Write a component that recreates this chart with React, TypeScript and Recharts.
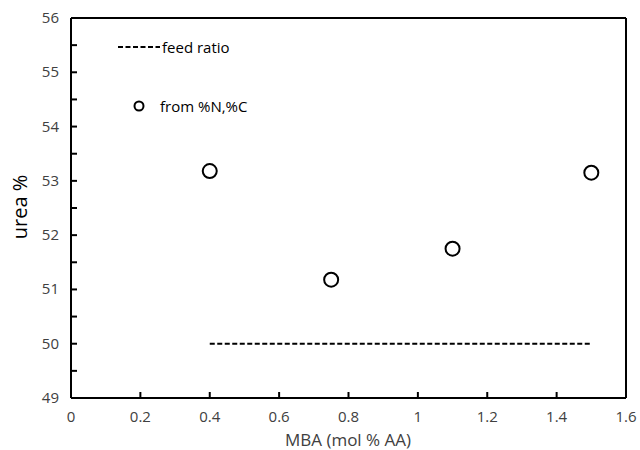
import { ComposedChart, Scatter, XAxis, YAxis, ReferenceLine, Label } from 'recharts';

const mbaPoints = [0.4, 0.75, 1.1, 1.5];
const ureaPoints = [53.18, 51.18, 51.75, 53.15];
const feedX = [0.4, 1.5];
const feedY = [50, 50];
const xTicks = [0, 0.2, 0.4, 0.6, 0.8, 1, 1.2, 1.4, 1.6];
const yTicks = [49, 49.5, 50, 50.5, 51, 51.5, 52, 52.5, 53, 53.5, 54, 54.5, 55, 55.5, 56];

const measured = mbaPoints.map((x, i) => ({ x, y: ureaPoints[i] }));
const feed = feedX.map((x, i) => ({ x, y: feedY[i] }));

const font = 'Open Sans, sans-serif';

const XTick = (props: any) => {
  const { x, y, payload } = props;
  return (
    <g>
      <line x1={x} y1={y} x2={x} y2={y - 6} stroke="#000" strokeWidth={2} />
      <text x={x} y={y + 24} textAnchor="middle" fontSize={15} fill="#404040" fontFamily={font}>
        {payload.value}
      </text>
    </g>
  );
};

const YTick = (props: any) => {
  const { x, y, payload } = props;
  const major = Number.isInteger(payload.value);
  return (
    <g>
      <line x1={x} y1={y} x2={x + 6} y2={y} stroke="#000" strokeWidth={2} />
      {major && (
        <text x={x - 12} y={y + 5} textAnchor="end" fontSize={15} fill="#404040" fontFamily={font}>
          {payload.value}
        </text>
      )}
    </g>
  );
};

// legend drawn over the plot, the way the spreadsheet places it
const LegendBox = () => (
  <div style={{ position: 'absolute', left: 118, top: 36, fontFamily: font, fontSize: 15, color: '#000' }}>
    <div style={{ display: 'flex', alignItems: 'center', height: 22 }}>
      <svg width={44} height={10}>
        <line x1={0} y1={5} x2={42} y2={5} stroke="#000" strokeWidth={2} strokeDasharray="5 2.5" />
      </svg>
      <span>feed ratio</span>
    </div>
    <div style={{ display: 'flex', alignItems: 'center', height: 22, marginTop: 37 }}>
      <svg width={42} height={14}>
        <circle cx={21} cy={7} r={4.5} fill="#fff" stroke="#000" strokeWidth={2} />
      </svg>
      <span>from %N,%C</span>
    </div>
  </div>
);

export default function App() {
  return (
    <div style={{ position: 'absolute', left: 0, top: 0, width: 640, height: 450, background: '#fff' }}>
      <ComposedChart width={640} height={450} margin={{ top: 18, right: 14, bottom: 22, left: 31 }}>
        <XAxis
          type="number"
          dataKey="x"
          domain={[0, 1.6]}
          ticks={xTicks}
          tickSize={0}
          tickMargin={0}
          tick={<XTick />}
          height={30}
          axisLine={{ stroke: '#000', strokeWidth: 2 }}
          tickLine={false}
          interval={0}
        >
          <Label
            content={() => (
              <text x={348} y={446} textAnchor="middle" fontSize={17} fill="#404040" fontFamily={font}>
                MBA (mol % AA)
              </text>
            )}
          />
        </XAxis>
        <YAxis
          type="number"
          dataKey="y"
          domain={[49, 56]}
          ticks={yTicks}
          tickSize={0}
          tickMargin={0}
          tick={<YTick />}
          width={40}
          axisLine={{ stroke: '#000', strokeWidth: 2 }}
          tickLine={false}
          interval={0}
        >
          <Label
            content={() => (
              <text
                x={27}
                y={207}
                transform="rotate(-90 27 207)"
                textAnchor="middle"
                fontSize={20}
                fill="#000"
                fontFamily={font}
              >
                urea %
              </text>
            )}
          />
        </YAxis>
        <ReferenceLine y={56} stroke="#000" strokeWidth={2} />
        <ReferenceLine x={1.6} stroke="#000" strokeWidth={2} />
        <Scatter
          name="feed ratio"
          data={feed}
          line={{ stroke: '#000', strokeWidth: 2, strokeDasharray: '5 2.5' }}
          lineType="joint"
          shape={() => null}
          isAnimationActive={false}
        />
        <Scatter
          name="from %N,%C"
          data={measured}
          shape={(p: any) => <circle cx={p.cx} cy={p.cy} r={7} fill="#fff" stroke="#000" strokeWidth={2} />}
          isAnimationActive={false}
        />
      </ComposedChart>
      <LegendBox />
    </div>
  );
}
